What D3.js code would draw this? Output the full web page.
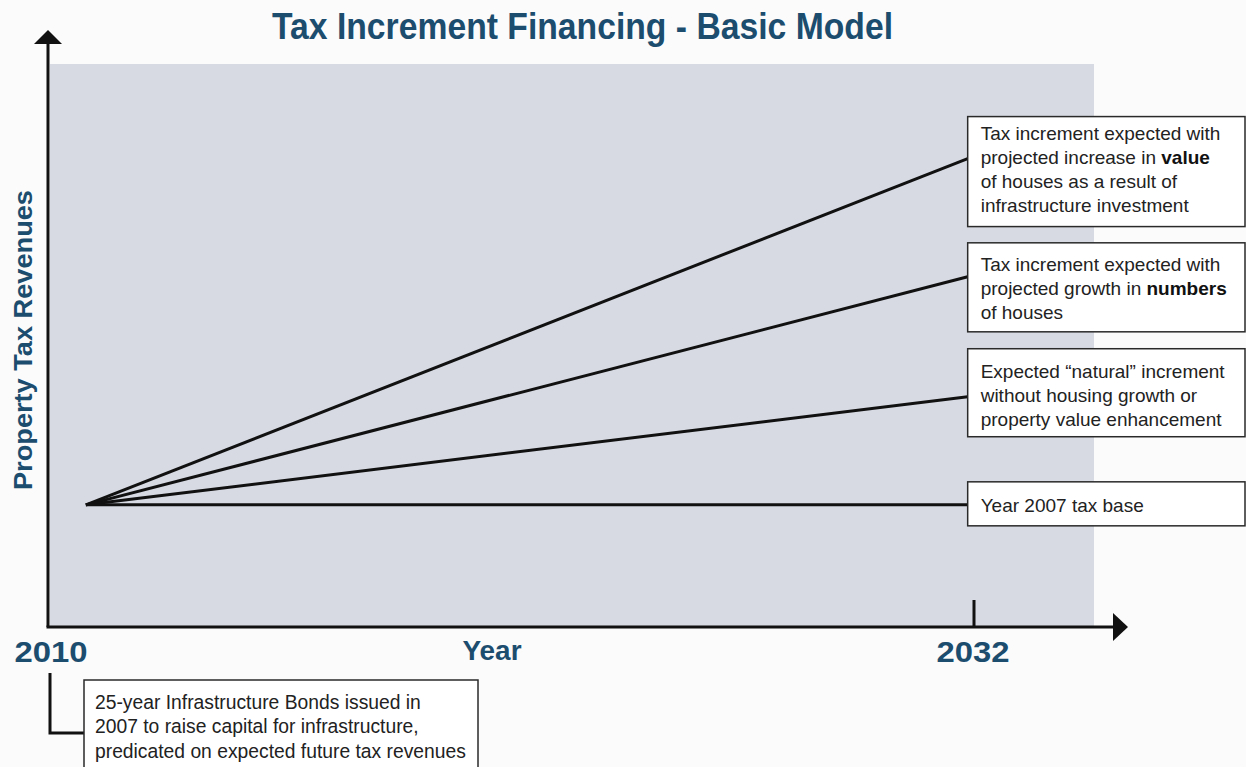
<!DOCTYPE html>
<html>
<head>
<meta charset="utf-8">
<script src="https://cdn.jsdelivr.net/npm/d3@7"></script>
<style>
  html, body { margin: 0; padding: 0; background: #fbfbfb; }
  svg { display: block; }
</style>
</head>
<body>
<svg id="chart" width="1246" height="767"></svg>
<script>
// Timeline endpoints and revenue projections (index units)
const startYear = 2010.9;
const endYear = 2031.85;
const axisYears = [2010, 2032];
const scenarioNames = ["value", "numbers", "natural", "base"];
const startRevenue = [21.7, 21.7, 21.7, 21.7];
const endRevenue = [83.2, 62.2, 40.9, 21.7];

const scenarioLabels = [
  [["Tax increment expected with"], ["projected increase in ", "value"], ["of houses as a result of"], ["infrastructure investment"]],
  [["Tax increment expected with"], ["projected growth in ", "numbers"], ["of houses"]],
  [["Expected \u201cnatural\u201d increment"], ["without housing growth or"], ["property value enhancement"]],
  [["Year 2007 tax base"]]
];
const bondNote = [
  "25-year Infrastructure Bonds issued in",
  "2007 to raise capital for infrastructure,",
  "predicated on expected future tax revenues"
];

const blue = "#1c4d6f";
const svg = d3.select("#chart");

const x = d3.scaleLinear().domain([2010, 2032]).range([48, 974]);
const y = d3.scaleLinear().domain([0, 100]).range([627, 64]);

// Shaded plot area
svg.append("rect")
  .attr("x", 50).attr("y", y(100))
  .attr("width", 1094 - 50).attr("height", y(0) - y(100))
  .attr("fill", "#d7dae3");

// Title
svg.append("text")
  .attr("x", 272).attr("y", 39)
  .attr("textLength", 621).attr("lengthAdjust", "spacingAndGlyphs")
  .attr("font-family", "'Liberation Sans Narrow', 'Liberation Sans', Arial, sans-serif")
  .attr("font-weight", "bold").attr("font-size", 36)
  .attr("fill", blue)
  .text("Tax Increment Financing - Basic Model");

// Axes with arrowheads
const axisG = svg.append("g");
axisG.append("line")
  .attr("x1", x(2010)).attr("y1", y(0)).attr("x2", x(2010)).attr("y2", 40)
  .attr("stroke", "#111").attr("stroke-width", 3);
axisG.append("path")
  .attr("d", `M${x(2010)},30 L${x(2010) - 14},44 L${x(2010) + 14},44 Z`)
  .attr("fill", "#111");
axisG.append("line")
  .attr("x1", x(2010) - 1.5).attr("y1", y(0)).attr("x2", 1116).attr("y2", y(0))
  .attr("stroke", "#111").attr("stroke-width", 3);
axisG.append("path")
  .attr("d", `M1128,${y(0)} L1113,${y(0) - 14} L1113,${y(0) + 14} Z`)
  .attr("fill", "#111");

// Tick at 2032
svg.append("line")
  .attr("x1", x(2032)).attr("x2", x(2032))
  .attr("y1", y(0) - 27).attr("y2", y(0))
  .attr("stroke", "#111").attr("stroke-width", 3);

// Year labels
const yearLabelShift = [3, -1];
axisYears.forEach((yr, i) => {
  svg.append("text")
    .attr("x", x(yr) + yearLabelShift[i]).attr("y", 662)
    .attr("text-anchor", "middle")
    .attr("textLength", 73).attr("lengthAdjust", "spacingAndGlyphs")
    .attr("font-family", "'Liberation Sans', Arial, sans-serif")
    .attr("font-weight", "bold").attr("font-size", 29)
    .attr("fill", blue)
    .text(yr);
});
svg.append("text")
  .attr("x", 492).attr("y", 660)
  .attr("text-anchor", "middle")
  .attr("textLength", 59).attr("lengthAdjust", "spacingAndGlyphs")
  .attr("font-family", "'Liberation Sans', Arial, sans-serif")
  .attr("font-weight", "bold").attr("font-size", 28)
  .attr("fill", blue)
  .text("Year");

// Y axis title
svg.append("text")
  .attr("transform", "translate(32,340) rotate(-90)")
  .attr("text-anchor", "middle")
  .attr("textLength", 300).attr("lengthAdjust", "spacingAndGlyphs")
  .attr("font-family", "'Liberation Sans', Arial, sans-serif")
  .attr("font-weight", "bold").attr("font-size", 26)
  .attr("fill", blue)
  .text("Property Tax Revenues");

// Projection lines
const lineGen = d3.line().x(d => x(d[0])).y(d => y(d[1]));
scenarioNames.forEach((name, i) => {
  svg.append("path")
    .attr("class", "scenario " + name)
    .attr("d", lineGen([[startYear, startRevenue[i]], [endYear, endRevenue[i]]]))
    .attr("fill", "none")
    .attr("stroke", "#111").attr("stroke-width", 3)
    .attr("stroke-linecap", "butt");
});

// Labels at line ends: box offset above line end, box height, first baseline offset
const lineH = 24.3;
const fontFam = "'Liberation Sans', Arial, sans-serif";
const boxAbove = [42, 34, 48, 23];
const boxHeight = [110, 89, 88, 44];
const firstBaseline = [23, 28, 29, 30];
scenarioNames.forEach((name, i) => {
  const lines = scenarioLabels[i];
  const endY = y(endRevenue[i]);
  const boxTop = endY - boxAbove[i];
  const bx = x(endYear);
  svg.append("rect")
    .attr("x", bx).attr("y", boxTop)
    .attr("width", 1245 - bx).attr("height", boxHeight[i])
    .attr("fill", "#fff").attr("stroke", "#2a2a2a").attr("stroke-width", 1.5);
  const t = svg.append("text")
    .attr("font-family", fontFam).attr("font-size", 19)
    .attr("fill", "#222");
  lines.forEach((parts, j) => {
    parts.forEach((p, k) => {
      const ts = t.append("tspan").text(p);
      if (k === 0) ts.attr("x", bx + 13).attr("y", boxTop + firstBaseline[i] + j * lineH);
      if (k === 1) ts.attr("font-weight", "bold").attr("fill", "#111");
    });
  });
});

// Bond note with connector from the 2010 mark
svg.append("path")
  .attr("d", `M${x(2010) + 2},673 L${x(2010) + 2},733 L84,733`)
  .attr("fill", "none").attr("stroke", "#111").attr("stroke-width", 3);
svg.append("rect")
  .attr("x", 84).attr("y", 680).attr("width", 394).attr("height", 100)
  .attr("fill", "#fff").attr("stroke", "#2a2a2a").attr("stroke-width", 1.5);
const note = svg.append("text")
  .attr("font-family", fontFam).attr("font-size", 19.3).attr("fill", "#222");
bondNote.forEach((s, j) => {
  note.append("tspan").attr("x", 95).attr("y", 709 + j * 24.3).text(s);
});
</script>
</body>
</html>
